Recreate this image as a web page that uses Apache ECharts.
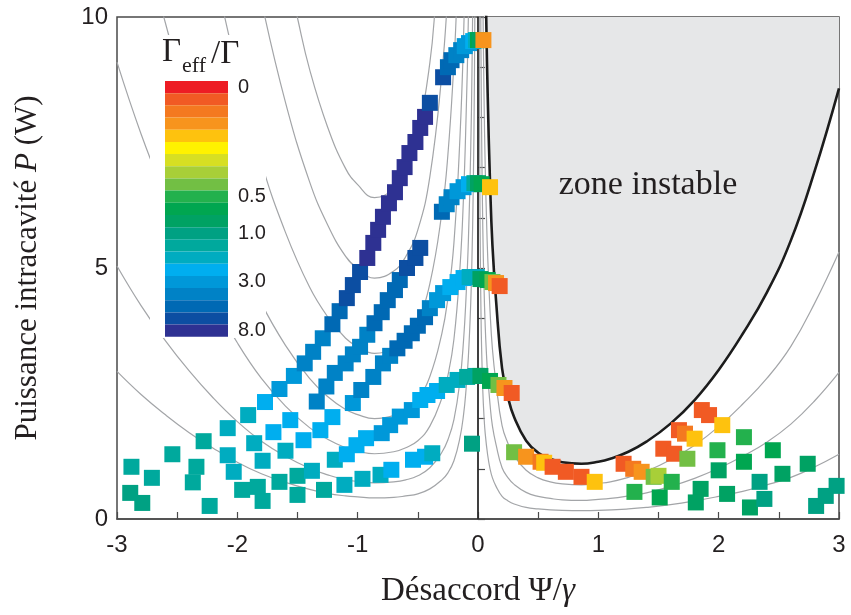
<!DOCTYPE html>
<html><head><meta charset="utf-8">
<script src="https://cdn.jsdelivr.net/npm/echarts/dist/echarts.min.js"></script>
<style>html,body{margin:0;padding:0;background:#fff}#c{width:851px;height:615px}</style>
</head><body><div id="c"></div>
<script>
// ---- axes ----
const xLabelTicks = [-3, -2, -1, 0, 1, 2, 3];
const yLabelTicks = [0, 5, 10];

// ---- colour scale Gamma_eff/Gamma (top -> bottom) ----
const colorScale = ['#ed1c24','#f15a24','#f47920','#f7941d','#fec20e','#fff200','#d7df23','#a8cf38','#72bf44','#23b14d','#00a650','#00a263','#00a183','#00a99d','#00acc0','#00aeef','#0098d9','#0082c6','#0069b4','#0c4ea2','#2e3192'];
const colorLabels = ['0','','','','','','','','','0.5','','','1.0','','','','3.0','','','','8.0'];

// ---- gray iso-lines, cooling side (x<0) ----
const curveL1 = [[-1.6,11.07],[-1.5,9.98],[-1.4,8.96],[-1.25,7.81],[-1.1,6.98],[-1.0,6.66],[-0.86,6.4],[-0.7,6.59],[-0.6,6.98],[-0.5,7.68],[-0.4,9.09],[-0.35,10.37],[-0.3,11.84]];
const curveL2 = [[-1.8,10.32],[-1.6,8.30],[-1.4,6.72],[-1.25,5.86],[-1.1,5.23],[-1.0,4.99],[-0.86,4.8],[-0.7,4.94],[-0.6,5.23],[-0.5,5.76],[-0.4,6.82],[-0.3,8.88],[-0.25,10.56]];
const curveL3 = [[-2.2,11.06],[-2.0,8.91],[-1.8,7.10],[-1.6,5.71],[-1.4,4.62],[-1.25,4.03],[-1.1,3.60],[-1.0,3.43],[-0.86,3.3],[-0.7,3.40],[-0.6,3.60],[-0.5,3.96],[-0.4,4.69],[-0.3,6.11],[-0.25,7.26],[-0.2,9.08],[-0.18,10.1],[-0.15,12.2]];
const curveL4 = [[-2.8,11.8],[-2.6,9.9],[-2.4,8.2],[-2.2,6.7],[-2.0,5.4],[-1.8,4.3],[-1.6,3.46],[-1.4,2.8],[-1.25,2.44],[-1.1,2.18],[-1.0,2.08],[-0.86,2.0],[-0.7,2.06],[-0.6,2.18],[-0.5,2.4],[-0.4,2.84],[-0.3,3.7],[-0.25,4.4],[-0.2,5.5],[-0.15,7.6],[-0.12,9.6],[-0.10,11.8]];
const curveL5 = [[-3.0,9.1],[-2.8,7.67],[-2.6,6.44],[-2.4,5.33],[-2.2,4.36],[-2.0,3.51],[-1.8,2.8],[-1.6,2.25],[-1.4,1.82],[-1.25,1.59],[-1.1,1.42],[-1.0,1.35],[-0.86,1.3],[-0.7,1.34],[-0.6,1.42],[-0.5,1.56],[-0.4,1.85],[-0.3,2.41],[-0.25,2.86],[-0.2,3.58],[-0.15,5.0],[-0.12,6.44],[-0.10,7.93],[-0.08,10.0],[-0.06,13.4]];
const curveL6 = [[-3.0,5.04],[-2.8,4.25],[-2.6,3.56],[-2.4,2.95],[-2.2,2.41],[-2.0,1.94],[-1.8,1.55],[-1.6,1.25],[-1.4,1.01],[-1.25,0.88],[-1.1,0.78],[-1.0,0.75],[-0.86,0.72],[-0.7,0.74],[-0.6,0.78],[-0.5,0.86],[-0.4,1.02],[-0.3,1.33],[-0.25,1.58],[-0.2,1.98],[-0.15,2.75],[-0.12,3.56],[-0.10,4.39],[-0.08,5.54],[-0.06,7.42],[-0.05,8.93],[-0.04,11.16]];
const curveL7 = [[-3.0,2.94],[-2.8,2.48],[-2.6,2.08],[-2.4,1.72],[-2.2,1.41],[-2.0,1.13],[-1.8,0.90],[-1.6,0.73],[-1.4,0.59],[-1.25,0.51],[-1.1,0.46],[-1.0,0.44],[-0.86,0.42],[-0.7,0.43],[-0.6,0.46],[-0.5,0.50],[-0.4,0.60],[-0.3,0.78],[-0.25,0.92],[-0.2,1.16],[-0.15,1.62],[-0.12,2.08],[-0.10,2.56],[-0.08,3.23],[-0.06,4.33],[-0.05,5.21],[-0.04,6.51],[-0.03,8.69],[-0.02,13.0]];

// ---- gray iso-lines, heating side (x>0) ----
const curveR1 = [[0.007,14.6],[0.01,10.2],[0.015,6.8],[0.02,5.1],[0.025,4.08],[0.03,3.4],[0.04,2.55],[0.05,2.04],[0.06,1.7],[0.08,1.28],[0.10,1.0],[0.12,0.82],[0.15,0.65],[0.20,0.45],[0.25,0.36],[0.30,0.30],[0.40,0.23],[0.50,0.20],[0.60,0.18],[0.70,0.17],[0.86,0.165],[1.0,0.17],[1.25,0.20],[1.4,0.23],[1.6,0.285],[1.8,0.36],[2.0,0.45],[2.2,0.55],[2.4,0.68],[2.6,0.83],[2.8,1.04],[3.0,1.29]];
const curveR2 = [[0.015,15.4],[0.02,11.56],[0.025,9.25],[0.03,7.71],[0.04,5.78],[0.05,4.62],[0.06,3.84],[0.07,3.3],[0.08,2.89],[0.10,2.28],[0.12,1.85],[0.15,1.48],[0.20,1.02],[0.25,0.82],[0.30,0.69],[0.40,0.53],[0.50,0.45],[0.60,0.41],[0.70,0.38],[0.86,0.37],[1.0,0.39],[1.1,0.41],[1.25,0.46],[1.4,0.52],[1.6,0.65],[1.8,0.81],[2.0,1.01],[2.2,1.25],[2.4,1.53],[2.6,1.89],[2.8,2.36],[3.0,2.92]];
const curveR3 = [[0.03,14.05],[0.04,10.54],[0.05,8.43],[0.06,7.0],[0.07,6.05],[0.08,5.27],[0.10,4.15],[0.12,3.38],[0.15,2.70],[0.20,1.86],[0.25,1.50],[0.30,1.26],[0.40,0.97],[0.50,0.82],[0.60,0.74],[0.70,0.70],[0.86,0.68],[1.0,0.71],[1.1,0.74],[1.25,0.83],[1.4,0.95],[1.6,1.18],[1.8,1.47],[2.0,1.84],[2.2,2.29],[2.4,2.80],[2.6,3.44],[2.8,4.31],[3.0,5.32]];

// ---- instability boundary (Gamma_eff = 0) ----
const boundary = [[0.05,13.6],[0.06,11.3],[0.07,9.75],[0.08,8.5],[0.10,6.7],[0.12,5.45],[0.15,4.35],[0.20,3.0],[0.25,2.42],[0.30,2.03],[0.40,1.56],[0.50,1.32],[0.60,1.2],[0.70,1.13],[0.86,1.1],[1.0,1.14],[1.1,1.2],[1.25,1.34],[1.4,1.54],[1.6,1.9],[1.8,2.37],[2.0,2.97],[2.2,3.69],[2.4,4.51],[2.6,5.55],[2.8,6.95],[3.0,8.58]];
const zeroLine = [[0,0],[0,10]];

// ---- measurements: [detuning, power, colour index] ----
const bandP = [[-2.88,1.04,13],[-2.54,1.29,13],[-2.28,1.55,13],[-2.08,1.81,14],[-1.91,2.07,14],[-1.77,2.33,15],[-1.65,2.59,16],[-1.53,2.85,16],[-1.44,3.10,17],[-1.37,3.33,17],[-1.29,3.60,17],[-1.21,3.88,18],[-1.15,4.14,18],[-1.09,4.40,19],[-1.04,4.66,19],[-0.98,4.92,19],[-0.92,5.20,20],[-0.87,5.50,20],[-0.83,5.76,20],[-0.79,6.02,20],[-0.74,6.29,20],[-0.69,6.51,20],[-0.65,6.79,20],[-0.61,7.01,20],[-0.57,7.29,20],[-0.52,7.51,20],[-0.48,7.79,20],[-0.44,8.01,20],[-0.40,8.29,19],[-0.29,8.80,19],[-0.25,9.0,18],[-0.22,9.14,18],[-0.18,9.24,17],[-0.14,9.34,17],[-0.11,9.42,16],[-0.075,9.48,16],[-0.04,9.52,15],[-0.017,9.54,14],[0.0,9.54,10],[0.017,9.54,11],[0.045,9.54,3]];
const bandQ = [[-2.71,0.82,13],[-2.34,1.04,13],[-2.08,1.27,14],[-1.86,1.51,14],[-1.70,1.73,15],[-1.56,1.97,15],[-1.34,2.34,17],[-1.26,2.64,17],[-1.19,2.91,17],[-1.10,3.10,17],[-1.04,3.28,17],[-0.98,3.43,17],[-0.92,3.67,17],[-0.86,3.90,18],[-0.80,4.12,18],[-0.75,4.36,18],[-0.69,4.56,18],[-0.65,4.76,18],[-0.59,5.0,19],[-0.52,5.2,19],[-0.48,5.40,19],[-0.30,6.12,18],[-0.26,6.27,17],[-0.22,6.41,17],[-0.17,6.53,16],[-0.12,6.61,16],[-0.075,6.67,15],[-0.03,6.69,13],[0.0,6.69,11],[0.03,6.67,10],[0.10,6.61,4]];
const bandR = [[-2.89,0.52,12],[-2.37,0.73,13],[-2.03,0.94,14],[-1.79,1.16,14],[-1.60,1.36,14],[-1.45,1.57,15],[-1.31,1.77,15],[-1.21,2.03,15],[-1.04,2.31,16],[-0.97,2.57,17],[-0.87,2.83,17],[-0.79,3.1,17],[-0.73,3.25,17],[-0.67,3.40,18],[-0.61,3.55,18],[-0.55,3.70,18],[-0.50,3.85,18],[-0.44,4.02,18],[-0.40,4.2,17],[-0.34,4.36,16],[-0.29,4.5,16],[-0.23,4.62,15],[-0.17,4.72,15],[-0.12,4.80,15],[-0.07,4.82,14],[-0.01,4.82,14],[0.02,4.78,11],[0.08,4.76,10],[0.12,4.72,8],[0.15,4.70,3],[0.18,4.64,1]];
const bandS = [[-2.79,0.32,12],[-1.96,0.58,13],[-1.83,0.64,13],[-1.65,0.74,13],[-1.50,0.86,13],[-1.38,0.96,14],[-1.19,1.18,14],[-1.09,1.29,15],[-1.01,1.47,15],[-0.93,1.61,15],[-0.80,1.71,16],[-0.73,1.87,16],[-0.65,2.04,16],[-0.55,2.17,16],[-0.48,2.37,15],[-0.42,2.47,15],[-0.34,2.55,15],[-0.26,2.67,14],[-0.17,2.77,14],[-0.09,2.83,13],[-0.02,2.85,13],[0.02,2.85,11],[0.10,2.75,10],[0.17,2.67,8],[0.22,2.61,3],[0.28,2.51,1]];
const bandT = [[-2.23,0.26,13],[-1.79,0.36,13],[-1.50,0.48,13],[-1.28,0.58,13],[-1.11,0.68,14],[-0.96,0.80,14],[-0.81,0.88,14],[-0.72,0.98,15],[-0.54,1.18,15],[-0.44,1.24,15],[-0.38,1.31,14],[-0.05,1.5,12]];
const heatingPoints = [[0.30,1.33,8],[0.40,1.24,3],[0.52,1.14,2],[0.55,1.12,4],[0.62,1.04,1],[0.73,0.94,1],[0.86,0.84,1],[0.97,0.74,4],[1.21,1.10,1],[1.29,1.0,2],[1.36,0.94,3],[1.46,0.84,8],[1.50,0.86,7],[1.61,0.74,9],[1.30,0.54,9],[1.51,0.43,10],[1.54,1.40,1],[1.63,1.30,1],[1.74,1.20,8],[1.67,1.77,1],[1.72,1.70,2],[1.80,1.60,4],[1.86,2.17,1],[1.92,2.07,1],[2.03,1.87,4],[1.99,1.37,9],[1.85,0.60,11],[1.81,0.33,11],[2.0,0.97,11],[2.07,0.50,11],[2.21,1.63,9],[2.21,1.14,10],[2.26,0.23,11],[2.34,0.74,12],[2.38,0.40,12],[2.45,1.37,10],[2.53,0.90,11],[2.74,1.10,11],[2.81,0.26,12],[2.89,0.46,12],[2.98,0.66,12]];

const chart = echarts.init(document.getElementById('c'), null, {renderer: 'canvas'});
const serifFont = '"Liberation Serif", "DejaVu Serif", serif';
const sansFont = '"Liberation Sans", Arial, sans-serif';
const grayCurves = [curveL1, curveL2, curveL3, curveL4, curveL5, curveL6, curveL7, curveR1, curveR2, curveR3];

const series = grayCurves.map(d => ({
  type: 'line', data: d, symbol: 'none', smooth: 0.45,
  lineStyle: {color: '#a3a5a8', width: 1.2}, silent: true, z: 2, clip: true
}));
series.push({
  type: 'line', data: boundary, symbol: 'none', smooth: 0.45,
  lineStyle: {color: '#1c1c1c', width: 2.6},
  areaStyle: {color: '#e6e7e8', origin: 'end', opacity: 1},
  silent: true, z: 3, clip: true
});
series.push({
  type: 'line', data: zeroLine, symbol: 'none',
  lineStyle: {color: '#1c1c1c', width: 1.2}, silent: true, z: 3
});
const scatterIndex = series.length;
series.push({
  type: 'scatter', symbol: 'rect', symbolSize: 16,
  data: [].concat(bandT, bandS, bandR, bandQ, bandP, heatingPoints),
  itemStyle: {opacity: 1}, silent: true, z: 6
});

// colour-bar geometry (layout only)
const barLeft = 165, barTop = 81, barItemH = 12.18;
const labelGraphics = colorLabels.map((t, i) => t ? {
  type: 'text', z: 9, silent: true,
  style: {text: t, x: barLeft + 73, y: barTop + (i + 0.5) * barItemH, textVerticalAlign: 'middle',
          font: '20px ' + sansFont, fill: '#231f20'}
} : null).filter(Boolean);

chart.setOption({
  animation: false,
  backgroundColor: '#fff',
  grid: {left: 117, right: 12, top: 17, bottom: 96, show: true, borderColor: '#4a4a4a', borderWidth: 1.5, backgroundColor: 'transparent', outerBoundsMode: 'none'},
  xAxis: {
    type: 'value', min: -3, max: 3, interval: 0.5,
    axisLine: {lineStyle: {color: '#4a4a4a', width: 1.5}},
    axisTick: {inside: true, length: 7, lineStyle: {color: '#4a4a4a', width: 1.2}},
    splitLine: {show: false},
    axisLabel: {margin: 14, fontFamily: sansFont, fontSize: 24, color: '#231f20',
      formatter: v => xLabelTicks.includes(v) ? String(v) : ''},
    name: 'Désaccord Ψ/{i|γ}', nameLocation: 'middle', nameGap: 56,
    nameTextStyle: {fontFamily: serifFont, fontSize: 33, color: '#231f20',
      rich: {i: {fontFamily: serifFont, fontSize: 33, fontStyle: 'italic', color: '#231f20'}}}
  },
  yAxis: {
    type: 'value', min: 0, max: 10, interval: 1,
    axisLine: {lineStyle: {color: '#4a4a4a', width: 1.5}},
    axisTick: {inside: true, length: 7, lineStyle: {color: '#4a4a4a', width: 1.2}},
    splitLine: {show: false},
    axisLabel: {margin: 9, fontFamily: sansFont, fontSize: 24, color: '#231f20',
      formatter: v => yLabelTicks.includes(v) ? String(v) : ''},
    name: 'Puissance intracavité {i|P} (W)', nameLocation: 'middle', nameGap: 74,
    nameTextStyle: {fontFamily: serifFont, fontSize: 31, color: '#231f20',
      rich: {i: {fontFamily: serifFont, fontSize: 31, fontStyle: 'italic', color: '#231f20'}}}
  },
  visualMap: {
    type: 'piecewise', dimension: 2, seriesIndex: scatterIndex,
    pieces: colorScale.map((c, i) => ({value: i, color: c, label: ' '})),
    orient: 'vertical', inverse: true, left: barLeft, top: barTop, padding: 0,
    itemWidth: 63, itemHeight: barItemH, itemGap: 0, itemSymbol: 'rect', showLabel: false,
    selectedMode: false, hoverLink: false, z: 8,
    textStyle: {fontSize: 1}
  },
  graphic: [
    {type: 'rect', shape: {x: 150, y: 35, width: 116, height: 303}, style: {fill: '#fff'}, z: 4, silent: true},
    {type: 'text', z: 9, silent: true, style: {text: 'Γ', x: 162, y: 69, textVerticalAlign: 'bottom', font: '33px ' + serifFont, fill: '#231f20'}},
    {type: 'text', z: 9, silent: true, style: {text: 'eff', x: 182, y: 77, textVerticalAlign: 'bottom', font: '22px ' + serifFont, fill: '#231f20'}},
    {type: 'text', z: 9, silent: true, style: {text: '/Γ', x: 211, y: 71, textVerticalAlign: 'bottom', font: '33px ' + serifFont, fill: '#231f20'}},
    {type: 'text', z: 9, silent: true, style: {text: 'zone instable', x: 648, y: 185, textAlign: 'center', textVerticalAlign: 'middle', font: '34px ' + serifFont, fill: '#231f20'}}
  ].concat(labelGraphics),
  series: series
});
</script>
</body></html>
